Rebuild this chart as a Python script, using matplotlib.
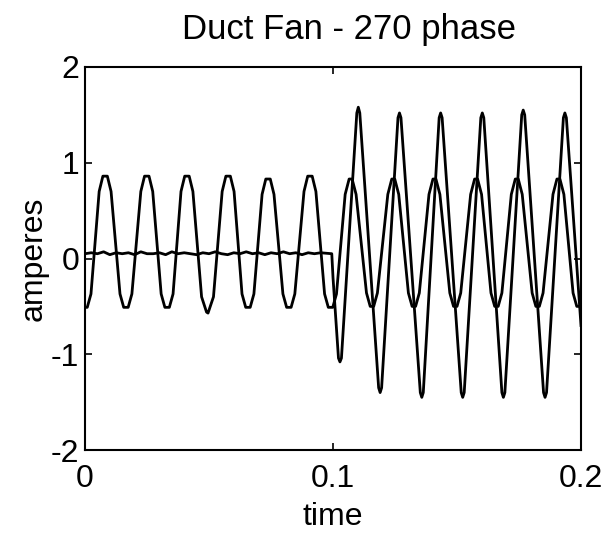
import matplotlib
matplotlib.use("Agg")
from matplotlib import pyplot as plt

plt.rcParams["font.family"] = ["Liberation Sans", "DejaVu Sans"]

# phase current that runs through the whole record (clipped ~60 Hz wave)
a_time = [
    0.0000, 0.0009, 0.0024,
    0.0057, 0.0072, 0.0090, 0.0105,
    0.0141, 0.0156, 0.0174, 0.0189,
    0.0225, 0.0240, 0.0258, 0.0273,
    0.0307, 0.0322, 0.0340, 0.0355,
    0.0387, 0.0402, 0.0420, 0.0435,
    0.0470, 0.0490, 0.0496, 0.0518,
    0.0553, 0.0568, 0.0586, 0.0601,
    0.0633, 0.0648, 0.0666, 0.0681,
    0.0714, 0.0729, 0.0747, 0.0762,
    0.0798, 0.0813, 0.0831, 0.0846,
    0.0883, 0.0898, 0.0916, 0.0931,
    0.0966, 0.0981, 0.0999, 0.1014,
    0.1049, 0.1065, 0.1077, 0.1093,
    0.1135, 0.1150, 0.1164, 0.1179,
    0.1221, 0.1237, 0.1249, 0.1265,
    0.1304, 0.1319, 0.1333, 0.1348,
    0.1387, 0.1403, 0.1415, 0.1431,
    0.1471, 0.1486, 0.1500, 0.1515,
    0.1555, 0.1571, 0.1583, 0.1599,
    0.1637, 0.1652, 0.1666, 0.1681,
    0.1719, 0.1735, 0.1747, 0.1763,
    0.1803, 0.1818, 0.1832, 0.1847,
    0.1887, 0.1903, 0.1915, 0.1931,
    0.1968, 0.1983, 0.1995, 0.2000,
]
a_amps = [
    -0.51, -0.51, -0.37,
    0.70, 0.86, 0.86, 0.70,
    -0.37, -0.51, -0.51, -0.37,
    0.70, 0.86, 0.86, 0.70,
    -0.37, -0.51, -0.51, -0.37,
    0.70, 0.86, 0.86, 0.70,
    -0.40, -0.56, -0.57, -0.40,
    0.70, 0.86, 0.86, 0.70,
    -0.37, -0.51, -0.51, -0.37,
    0.67, 0.83, 0.83, 0.67,
    -0.37, -0.51, -0.51, -0.37,
    0.70, 0.86, 0.86, 0.70,
    -0.37, -0.51, -0.51, -0.37,
    0.67, 0.83, 0.83, 0.67,
    -0.36, -0.50, -0.50, -0.36,
    0.67, 0.83, 0.83, 0.67,
    -0.36, -0.50, -0.50, -0.36,
    0.67, 0.83, 0.83, 0.67,
    -0.36, -0.50, -0.50, -0.36,
    0.67, 0.83, 0.83, 0.67,
    -0.36, -0.50, -0.50, -0.36,
    0.67, 0.83, 0.83, 0.67,
    -0.36, -0.50, -0.50, -0.36,
    0.67, 0.83, 0.83, 0.67,
    -0.36, -0.50, -0.50, -0.45,
]

# second phase: near zero until the fan switches at t = 0.1
b_time = [
    0.0000, 0.0025, 0.0050, 0.0075, 0.0100, 0.0125, 0.0150, 0.0175,
    0.0200, 0.0225, 0.0250, 0.0275, 0.0300, 0.0325, 0.0350, 0.0375,
    0.0400, 0.0425, 0.0450, 0.0475, 0.0500, 0.0525, 0.0550, 0.0575,
    0.0600, 0.0625, 0.0650, 0.0675, 0.0700, 0.0725, 0.0750, 0.0775,
    0.0800, 0.0825, 0.0850, 0.0875, 0.0900, 0.0925, 0.0950, 0.0995,
    0.1000, 0.1022, 0.1028, 0.1034, 0.1096, 0.1102,
    0.1108, 0.1184, 0.1190, 0.1196, 0.1262, 0.1268, 0.1274, 0.1352,
    0.1358, 0.1364, 0.1428, 0.1434, 0.1440, 0.1517, 0.1523, 0.1529,
    0.1596, 0.1602, 0.1608, 0.1681, 0.1687, 0.1693, 0.1761, 0.1767,
    0.1773, 0.1849, 0.1855, 0.1861, 0.1929, 0.1935, 0.1941, 0.2000,
]
b_amps = [
    0.05, 0.06, 0.05, 0.07, 0.04, 0.06, 0.05, 0.06,
    0.04, 0.07, 0.05, 0.05, 0.06, 0.04, 0.07, 0.05,
    0.06, 0.05, 0.04, 0.06, 0.05, 0.07, 0.05, 0.04,
    0.06, 0.05, 0.07, 0.05, 0.06, 0.04, 0.06, 0.05,
    0.07, 0.05, 0.06, 0.04, 0.06, 0.05, 0.06, 0.05,
    -0.20, -1.04, -1.08, -1.04, 1.52, 1.58,
    1.52, -1.35, -1.40, -1.35, 1.47, 1.52, 1.47, -1.40,
    -1.45, -1.40, 1.47, 1.52, 1.47, -1.40, -1.45, -1.40,
    1.47, 1.52, 1.47, -1.40, -1.45, -1.40, 1.50, 1.55,
    1.50, -1.40, -1.45, -1.40, 1.47, 1.52, 1.47, -0.70,
]

x_ticks = [0, 0.1, 0.2]
x_labels = ["0", "0.1", "0.2"]
y_ticks = [-2, -1, 0, 1, 2]
y_labels = ["-2", "-1", "0", "1", "2"]

fig = plt.figure(figsize=(6.13, 5.39), dpi=100)
ax = fig.add_axes([0.1387, 0.1651, 0.8091, 0.7106])

ax.plot(a_time, a_amps, color="black", lw=2.0, solid_joinstyle="round")
ax.plot(b_time, b_amps, color="black", lw=2.0, solid_joinstyle="round")

ax.set_xlim(0, 0.2)
ax.set_ylim(-2, 2)
ax.set_xticks(x_ticks, x_labels)
ax.set_yticks(y_ticks, y_labels)
ax.tick_params(direction="in", top=True, right=True, length=5, width=1.2,
               labelsize=23)
ax.tick_params(axis="x", pad=10)
ax.tick_params(axis="y", pad=4)
for s in ax.spines.values():
    s.set_linewidth(1.5)

ax.set_xlabel("time", fontsize=23, labelpad=6)
ax.set_ylabel("amperes", fontsize=23, labelpad=2)
# title sits a little right of the axes centre
fig.text(0.569, 0.945, "Duct Fan - 270 phase", fontsize=25,
         ha="center", va="center")

fig.savefig("out.png", dpi=100)
